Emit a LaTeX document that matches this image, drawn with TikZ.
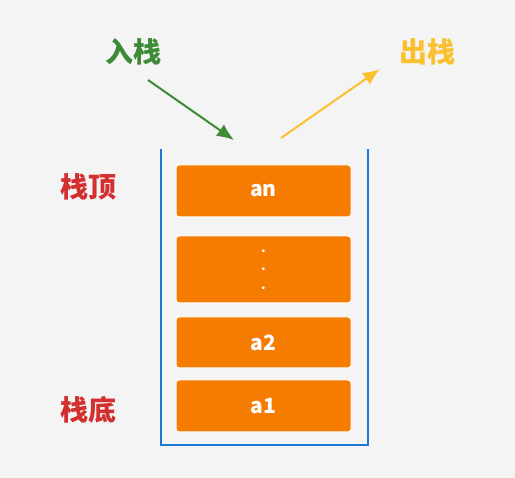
\documentclass[tikz,border=0pt]{standalone}
\usepackage{fontspec}
\newfontfamily\cjk{Noto Sans CJK SC}
\usetikzlibrary{positioning,arrows.meta}
\definecolor{bg}{HTML}{F4F4F4}
\definecolor{stackorange}{HTML}{F57C00}
\definecolor{stackblue}{HTML}{1E78D7}
\definecolor{pushgreen}{HTML}{3D8B37}
\definecolor{popyellow}{HTML}{FBC02D}
\definecolor{tagred}{HTML}{D32F2F}

\begin{document}
\begin{tikzpicture}[x=1pt,y=-1pt,
  elem/.style={draw=white,line width=1pt,fill=stackorange,rounded corners=3pt,
    minimum width=175pt,text=white,align=center,
    font=\cjk\bfseries\fontsize{21}{21}\selectfont},
  tag/.style={font=\cjk\bfseries\fontsize{28}{28}\selectfont},
  move/.style={line width=2pt,-{Latex[length=17pt,width=14pt]}}
]
\useasboundingbox[fill=bg] (0,0) rectangle (515,478);

% stack
\draw[stackblue,line width=2.3pt] (161,149) |- (368,445) -- (368,149);
\node[elem,minimum height=52pt] (an) at (263.5,191) {an};
\node[elem,minimum height=67pt,font=\cjk\bfseries\fontsize{13}{18.5}\selectfont] (dots) at (263.5,269.5) {.\\.\\.};
\node[elem,minimum height=51pt] (a2) at (263.5,342.5) {a2};
\node[elem,minimum height=52pt] (a1) at (263.5,406) {a1};

% labels
\node[tag,text=pushgreen] (push) at (133,52) {入栈};
\node[tag,text=popyellow] (pop) at (427,52) {出栈};
\node[tag,text=tagred] (top) at (88,187) {栈顶};
\node[tag,text=tagred] (bottom) at (88,410) {栈底};

% arrows
\coordinate (pushstart) at (148,80);
\coordinate (pushend) at (234,140);
\coordinate (popstart) at (281,138);
\coordinate (popend) at (380,69);
\draw[move,pushgreen] (pushstart) -- (pushend);
\draw[move,popyellow] (popstart) -- (popend);
\end{tikzpicture}
\end{document}
